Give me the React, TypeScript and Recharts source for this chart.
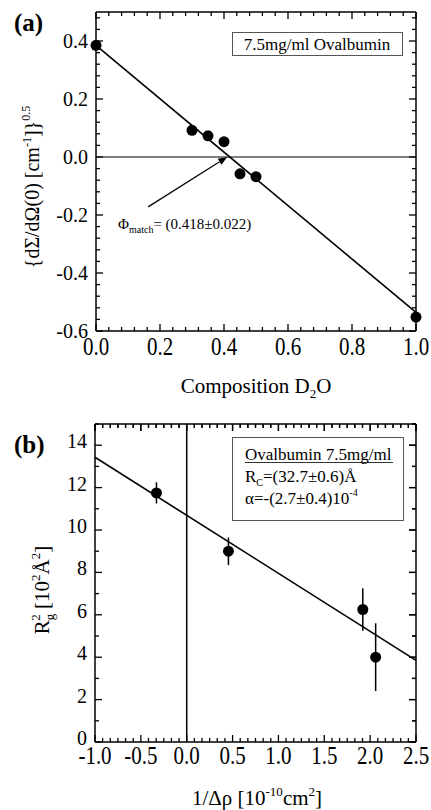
import React from "react";
import { ComposedChart, XAxis, YAxis, Scatter, Line, ReferenceLine, ErrorBar } from "recharts";

// panel (a): match point of ovalbumin
const compD2O = [0, 0.3, 0.35, 0.4, 0.45, 0.5, 1.0];
const sqrtI0 = [0.385, 0.092, 0.073, 0.053, -0.058, -0.068, -0.552];
const fitAX = [0, 1.0];
const fitAY = [0.385, -0.536];
const arrowA = [
  { x: 0.163, y: -0.172 },
  { x: 0.41, y: 0.0 },
];
const xTicksA = [0, 0.2, 0.4, 0.6, 0.8, 1.0];
const yTicksA = [-0.6, -0.4, -0.2, 0, 0.2, 0.4];

// panel (b): Stuhrmann plot
const invContrast = [-0.33, 0.455, 1.92, 2.06];
const rg2 = [11.75, 9.0, 6.25, 4.0];
const rg2Err = [0.5, 0.65, 1.0, 1.6];
const fitBX = [-1.0, 2.5];
const fitBY = [13.43, 3.85];
const xTicksB = [-1.0, -0.5, 0, 0.5, 1.0, 1.5, 2.0, 2.5];
const yTicksB = [0, 2, 4, 6, 8, 10, 12, 14];
const xDomB = [-1, 2.5];
const yDomB = [0, 15];

const FONT = "'Liberation Serif', 'Times New Roman', serif";

const withMinors = (majors: number[], parts: number, end: number) => {
  const out: number[] = [];
  const step = (majors[1] - majors[0]) / parts;
  for (let v = majors[0]; v <= end + 1e-9; v += step) out.push(Number(v.toFixed(6)));
  return out;
};

const dataA = compD2O.map((x, i) => ({ x, y: sqrtI0[i] }));
const fitA = fitAX.map((x, i) => ({ x, y: fitAY[i] }));
const dataB = invContrast.map((x, i) => ({ x, y: rg2[i], err: rg2Err[i] }));
const fitB = fitBX.map((x, i) => ({ x, y: fitBY[i] }));

// chart boxes
const W = 431;
const HA = 400;
const HB = 410;
const TOP_B = 400;
const mA = { top: 12, right: 15, bottom: 0, left: 0 };
const mB = { top: 24, right: 15, bottom: 0, left: 0 };
const yAxisWA = 96;
const yAxisWB = 95;
const xAxisHA = 69;
const xAxisHB = 68;
const plotWA = W - mA.right - yAxisWA;
const plotHA = HA - mA.top - xAxisHA;
const plotWB = W - mB.right - yAxisWB;
const plotHB = HB - mB.top - xAxisHB;

const isMajor = (majors: number[], v: number) => majors.some((m) => Math.abs(m - v) < 1e-6);

// ticks point inward, and are mirrored on the opposite side of the frame
function xTick(majors: number[], digits: number, dy: number, plotH: number) {
  return (props: any) => {
    const { x, y, payload } = props;
    const v = Number(payload.value);
    const major = isMajor(majors, v);
    const len = major ? 7 : 4;
    const top = y - plotH;
    return (
      <g>
        <line x1={x} y1={y} x2={x} y2={y - len} stroke="#000" strokeWidth={1.3} />
        <line x1={x} y1={top} x2={x} y2={top + len} stroke="#000" strokeWidth={1.3} />
        {major && (
          <text transform={`translate(${x},${y + dy}) scale(1,1.15)`} textAnchor="middle" fontSize={21}
            fontFamily={FONT} fill="#000">
            {v.toFixed(digits)}
          </text>
        )}
      </g>
    );
  };
}

function yTick(majors: number[], digits: number, dy: number, plotW: number) {
  return (props: any) => {
    const { x, y, payload } = props;
    const v = Number(payload.value);
    const major = isMajor(majors, v);
    const len = major ? 7 : 4;
    const right = x + plotW;
    return (
      <g>
        <line x1={x} y1={y} x2={x + len} y2={y} stroke="#000" strokeWidth={1.3} />
        <line x1={right} y1={y} x2={right - len} y2={y} stroke="#000" strokeWidth={1.3} />
        {major && (
          <text x={x - 8} y={y + dy} textAnchor="end" fontSize={20} fontFamily={FONT} fill="#000">
            {v.toFixed(digits)}
          </text>
        )}
      </g>
    );
  };
}

const Dot = (p: any) => <circle cx={p.cx} cy={p.cy} r={5.5} fill="#000" />;

const Arrow = (p: any) => {
  const { x1, y1, x2, y2 } = p;
  const a = Math.atan2(y2 - y1, x2 - x1);
  const L = 9;
  const hw = 3.5;
  const bx = x2 - L * Math.cos(a);
  const by = y2 - L * Math.sin(a);
  const px = -Math.sin(a) * hw;
  const py = Math.cos(a) * hw;
  return (
    <g>
      <line x1={x1} y1={y1} x2={bx} y2={by} stroke="#000" strokeWidth={1.2} />
      <polygon points={`${x2},${y2} ${bx + px},${by + py} ${bx - px},${by - py}`} fill="#000" />
    </g>
  );
};

const axisLine = { stroke: "#000", strokeWidth: 1.5 };

export default function App() {
  const xMinA = withMinors(xTicksA, 5, 1.0);
  const yMinA = withMinors(yTicksA, 5, 0.5);
  const xMinB = withMinors(xTicksB, 6, 2.5);
  const yMinB = withMinors(yTicksB, 2, 15);

  // frame of panel (b): top and right edges with inward ticks
  const bx0 = yAxisWB;
  const bx1 = yAxisWB + plotWB;
  const by0 = TOP_B + mB.top;
  const by1 = by0 + plotHB;
  const sxB = (v: number) => bx0 + ((v - xDomB[0]) / (xDomB[1] - xDomB[0])) * plotWB;
  const syB = (v: number) => by1 - ((v - yDomB[0]) / (yDomB[1] - yDomB[0])) * plotHB;

  return (
    <div style={{ position: "absolute", left: 0, top: 0, width: W, height: 810, background: "#fff" }}>
      <svg width={W} height={810} style={{ position: "absolute", left: 0, top: 0 }} fontFamily={FONT}>
        {/* panel (a) */}
        <text x={14} y={31} fontSize={25} fontWeight="bold">(a)</text>
        <rect x={232.5} y={32.5} width={170} height={23} fill="#fff" stroke="#555" strokeWidth={1} />
        <text x={317} y={49.5} fontSize={17} textAnchor="middle">7.5mg/ml Ovalbumin</text>
        <text x={118} y={229} fontSize={15}>
          Φ<tspan fontSize={10} dy={4}>match</tspan><tspan dy={-4}>= (0.418±0.022)</tspan>
        </text>
        <text transform="translate(39,187) rotate(-90)" textAnchor="middle" fontSize={20}>
          {"{dΣ/dΩ(0) [cm"}<tspan fontSize={12} dy={-8}>-1</tspan><tspan dy={8}>{"]}"}</tspan>
          <tspan fontSize={12} dy={-9}>0.5</tspan>
        </text>
        <text x={256} y={393} textAnchor="middle" fontSize={21}>
          Composition D<tspan fontSize={13} dy={5}>2</tspan><tspan dy={-5}>O</tspan>
        </text>

        {/* panel (b) */}
        <g stroke="#000" strokeWidth={1.3}>
          <line x1={bx0} y1={by0} x2={bx1} y2={by0} strokeWidth={1.5} />
          <line x1={bx1} y1={by0} x2={bx1} y2={by1} strokeWidth={1.5} />
          {xMinB.map((v) => (
            <line key={`tx${v}`} x1={sxB(v)} y1={by0} x2={sxB(v)} y2={by0 + (isMajor(xTicksB, v) ? 7 : 4)} />
          ))}
          {yMinB.map((v) => (
            <line key={`ry${v}`} x1={bx1} y1={syB(v)} x2={bx1 - (isMajor(yTicksB, v) ? 7 : 4)} y2={syB(v)} />
          ))}
        </g>
        <text x={14} y={453} fontSize={25} fontWeight="bold">(b)</text>
        <rect x={232.5} y={437.5} width={171} height={83} fill="#fff" stroke="#555" strokeWidth={1} />
        <text x={245} y={460} fontSize={17}>Ovalbumin 7.5mg/ml</text>
        <line x1={245} y1={462.5} x2={393} y2={462.5} stroke="#000" strokeWidth={0.8} />
        <text x={245} y={482} fontSize={17}>
          R<tspan fontSize={10} dy={4}>C</tspan><tspan dy={-4}>=(32.7±0.6)Å</tspan>
        </text>
        <text x={245} y={504} fontSize={17}>
          α=-(2.7±0.4)10<tspan fontSize={10} dy={-8}>-4</tspan>
        </text>
        <text transform="translate(49,590) rotate(-90)" textAnchor="middle" fontSize={21}>
          R<tspan fontSize={13} dy={5}>g</tspan><tspan fontSize={13} dx={-7} dy={-14}>2</tspan>
          <tspan dy={9}> [10</tspan><tspan fontSize={13} dy={-9}>2</tspan><tspan dy={9}>Å</tspan>
          <tspan fontSize={13} dy={-9}>2</tspan><tspan dy={9}>]</tspan>
        </text>
        <text x={257} y={805} textAnchor="middle" fontSize={21}>
          1/Δρ [10<tspan fontSize={13} dy={-9}>-10</tspan><tspan dy={9}>cm</tspan>
          <tspan fontSize={13} dy={-9}>2</tspan><tspan dy={9}>]</tspan>
        </text>
      </svg>

      <div style={{ position: "absolute", left: 0, top: 0 }}>
        <ComposedChart width={W} height={HA} margin={mA}>
          <XAxis dataKey="x" type="number" domain={[0, 1]} ticks={xMinA} interval={0}
            tickSize={0} tickMargin={0} tickLine={false} axisLine={axisLine} height={xAxisHA}
            tick={xTick(xTicksA, 1, 24, plotHA)} />
          <YAxis dataKey="y" type="number" domain={[-0.6, 0.5]} ticks={yMinA} interval={0}
            tickSize={0} tickMargin={0} tickLine={false} axisLine={axisLine} width={yAxisWA}
            tick={yTick(yTicksA, 1, 7, plotWA)} />
          <ReferenceLine x={1} stroke="#000" strokeWidth={1.5} ifOverflow="visible" />
          <ReferenceLine y={0.5} stroke="#000" strokeWidth={1.5} ifOverflow="visible" />
          <ReferenceLine y={0} stroke="#000" strokeWidth={1} />
          <ReferenceLine segment={arrowA} shape={Arrow} />
          <Line data={fitA} dataKey="y" dot={false} stroke="#000" strokeWidth={1.6} isAnimationActive={false} />
          <Scatter data={dataA} shape={Dot} isAnimationActive={false} />
        </ComposedChart>
      </div>
      <div style={{ position: "absolute", left: 0, top: TOP_B }}>
        <ComposedChart width={W} height={HB} margin={mB}>
          <XAxis dataKey="x" type="number" domain={xDomB} ticks={xMinB} interval={0}
            tickSize={0} tickMargin={0} tickLine={false} axisLine={axisLine} height={xAxisHB}
            tick={xTick(xTicksB, 1, 22, plotHB)} />
          <YAxis dataKey="y" type="number" domain={yDomB} ticks={yMinB} interval={0}
            tickSize={0} tickMargin={0} tickLine={false} axisLine={axisLine} width={yAxisWB}
            tick={yTick(yTicksB, 0, 3, plotWB)} />
          <ReferenceLine x={0} stroke="#000" strokeWidth={1.5} />
          <Line data={fitB} dataKey="y" dot={false} stroke="#000" strokeWidth={1.6} isAnimationActive={false} />
          <Scatter data={dataB} shape={Dot} isAnimationActive={false}>
            <ErrorBar dataKey="err" direction="y" width={0} stroke="#000" strokeWidth={1.5} />
          </Scatter>
        </ComposedChart>
      </div>
    </div>
  );
}
